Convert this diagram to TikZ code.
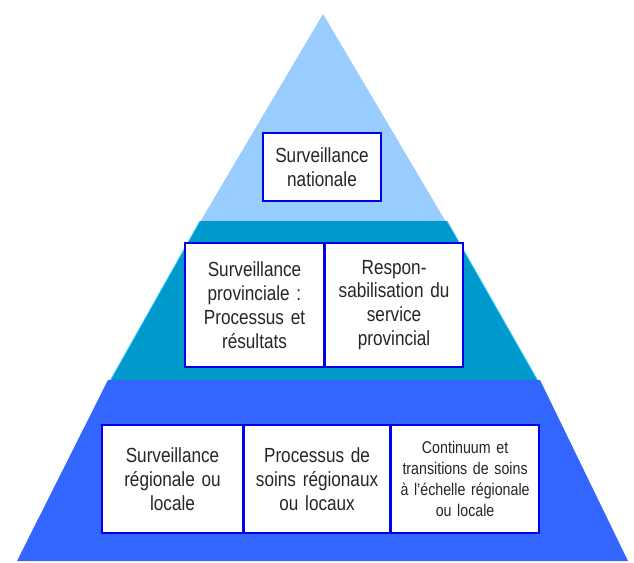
\documentclass[tikz,border=0pt]{standalone}
\usepackage{fontspec}
\setmainfont{Liberation Sans}[FakeStretch=0.84]
\usetikzlibrary{positioning}
\definecolor{toplevel}{HTML}{99CCFF}
\definecolor{midlevel}{HTML}{0099CC}
\definecolor{lowlevel}{HTML}{3366FF}
\definecolor{midedge}{HTML}{33CCFF}
\definecolor{boxline}{HTML}{0000EE}
\tikzset{
  levelbox/.style={draw=boxline, line width=1.6pt, fill=white, inner sep=0pt,
    align=center, text=black!85, font=\fontsize{20.5}{24}\selectfont},
  smallbox/.style={levelbox, font=\fontsize{17}{20.8}\selectfont}
}

\begin{document}
\begin{tikzpicture}[x=1bp, y=-1bp]
			%%%%% START %%%%%
			\useasboundingbox (0, 0) rectangle (634, 563);
			
			% top: national
			\fill[toplevel] (323, 14) -- (446, 222) -- (200, 222) -- cycle;
			\node[levelbox, minimum width=118, minimum height=68, text width=110] (national) at (322, 167) {Surveillance\\nationale};
			
			% middle: provincial
			\fill[midlevel] (200, 221) -- (447, 221) -- (538, 381) -- (110, 381) -- cycle;
			\draw[midedge, line width=0.8pt] (200, 221) -- (110, 381);
			\draw[midedge, line width=0.8pt] (447, 221) -- (538, 381);
			\node[levelbox, minimum width=139, minimum height=124, text width=130] (provres) at (254.5, 305) {Surveillance\\provinciale :\\Processus et\\résultats};
			\node[levelbox, minimum width=138, minimum height=124, text width=130, right=0pt of provres] (provresp) {Respon-\\sabilisation du\\service\\provincial};
			
			% bottom: regional / local
			\fill[lowlevel] (108, 380) -- (540, 380) -- (628, 561) -- (17, 561) -- cycle;
			\node[levelbox, minimum width=141, minimum height=108, text width=132] (regsurv) at (172.5, 479) {Surveillance\\régionale ou\\locale};
			\node[levelbox, minimum width=146, minimum height=108, text width=138, right=0pt of regsurv] (regproc) {Processus de\\soins régionaux\\ou locaux};
			\node[smallbox, minimum width=148, minimum height=108, text width=142, right=0pt of regproc] (regcont) {Continuum et\\transitions de soins\\à l’échelle régionale\\ou locale};
			%%%%% END %%%%%
		\end{tikzpicture}
\end{document}
